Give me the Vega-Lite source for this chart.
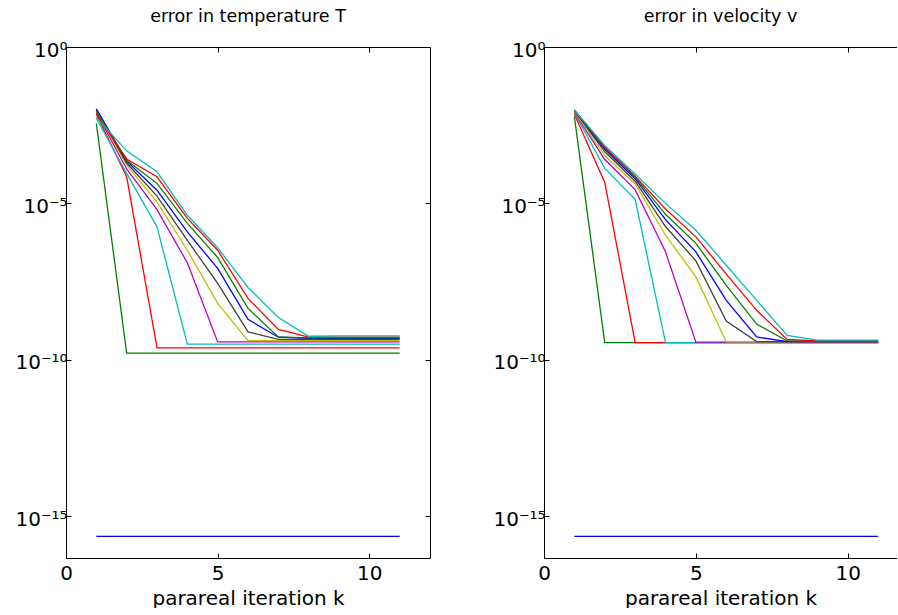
{
"$schema": "https://vega.github.io/schema/vega-lite/v6.json",
"padding": {"left": 14, "top": 8, "right": 0, "bottom": 0},
"bounds": "flush",
"spacing": 114,
"config": {
 "font": "DejaVu Sans",
 "view": {"stroke": null},
 "axis": {"grid": false, "domainColor": "#000", "tickColor": "#000", "labelColor": "#000", "titleColor": "#000", "labelFontSize": 20, "titleFontSize": 20, "titleFontWeight": "normal", "tickSize": -5, "labelFont": "DejaVu Sans", "titleFont": "DejaVu Sans", "labelFlush": false, "domainWidth": 1, "tickWidth": 1},
 "title": {"fontSize": 17.5, "fontWeight": "normal", "color": "#000", "font": "DejaVu Sans", "offset": 14.5, "frame": "group", "anchor": "middle"}
},
"datasets": {
"T": [
{"s":1,"k":1,"e":2.239e-16},{"s":1,"k":2,"e":2.239e-16},{"s":1,"k":3,"e":2.239e-16},{"s":1,"k":4,"e":2.239e-16},{"s":1,"k":5,"e":2.239e-16},{"s":1,"k":6,"e":2.239e-16},{"s":1,"k":7,"e":2.239e-16},{"s":1,"k":8,"e":2.239e-16},{"s":1,"k":9,"e":2.239e-16},{"s":1,"k":10,"e":2.239e-16},{"s":1,"k":11,"e":2.239e-16},
{"s":2,"k":1,"e":3.631e-3},{"s":2,"k":2,"e":1.622e-10},{"s":2,"k":3,"e":1.622e-10},{"s":2,"k":4,"e":1.622e-10},{"s":2,"k":5,"e":1.622e-10},{"s":2,"k":6,"e":1.622e-10},{"s":2,"k":7,"e":1.622e-10},{"s":2,"k":8,"e":1.622e-10},{"s":2,"k":9,"e":1.622e-10},{"s":2,"k":10,"e":1.622e-10},{"s":2,"k":11,"e":1.622e-10},
{"s":3,"k":1,"e":7.079e-3},{"s":3,"k":2,"e":7.079e-5},{"s":3,"k":3,"e":2.399e-10},{"s":3,"k":4,"e":2.399e-10},{"s":3,"k":5,"e":2.399e-10},{"s":3,"k":6,"e":2.399e-10},{"s":3,"k":7,"e":2.399e-10},{"s":3,"k":8,"e":2.399e-10},{"s":3,"k":9,"e":2.399e-10},{"s":3,"k":10,"e":2.399e-10},{"s":3,"k":11,"e":2.399e-10},
{"s":4,"k":1,"e":5.248e-3},{"s":4,"k":2,"e":9.12e-5},{"s":4,"k":3,"e":1.778e-6},{"s":4,"k":4,"e":3.162e-10},{"s":4,"k":5,"e":3.162e-10},{"s":4,"k":6,"e":3.162e-10},{"s":4,"k":7,"e":3.162e-10},{"s":4,"k":8,"e":3.162e-10},{"s":4,"k":9,"e":3.162e-10},{"s":4,"k":10,"e":3.162e-10},{"s":4,"k":11,"e":3.162e-10},
{"s":5,"k":1,"e":7.943e-3},{"s":5,"k":2,"e":1.259e-4},{"s":5,"k":3,"e":6.31e-6},{"s":5,"k":4,"e":1.259e-7},{"s":5,"k":5,"e":3.715e-10},{"s":5,"k":6,"e":3.715e-10},{"s":5,"k":7,"e":3.715e-10},{"s":5,"k":8,"e":3.715e-10},{"s":5,"k":9,"e":3.715e-10},{"s":5,"k":10,"e":3.715e-10},{"s":5,"k":11,"e":3.715e-10},
{"s":6,"k":1,"e":8.913e-3},{"s":6,"k":2,"e":1.66e-4},{"s":6,"k":3,"e":1.122e-5},{"s":6,"k":4,"e":3.162e-7},{"s":6,"k":5,"e":6.31e-9},{"s":6,"k":6,"e":4.074e-10},{"s":6,"k":7,"e":4.074e-10},{"s":6,"k":8,"e":4.074e-10},{"s":6,"k":9,"e":4.074e-10},{"s":6,"k":10,"e":4.074e-10},{"s":6,"k":11,"e":4.074e-10},
{"s":7,"k":1,"e":1e-2},{"s":7,"k":2,"e":1.95e-4},{"s":7,"k":3,"e":1.698e-5},{"s":7,"k":4,"e":6.607e-7},{"s":7,"k":5,"e":2.754e-8},{"s":7,"k":6,"e":7.762e-10},{"s":7,"k":7,"e":4.467e-10},{"s":7,"k":8,"e":4.467e-10},{"s":7,"k":9,"e":4.467e-10},{"s":7,"k":10,"e":4.467e-10},{"s":7,"k":11,"e":4.467e-10},
{"s":8,"k":1,"e":1.047e-2},{"s":8,"k":2,"e":2.239e-4},{"s":8,"k":3,"e":2.63e-5},{"s":8,"k":4,"e":1.23e-6},{"s":8,"k":5,"e":8.318e-8},{"s":8,"k":6,"e":1.95e-9},{"s":8,"k":7,"e":5.248e-10},{"s":8,"k":8,"e":4.786e-10},{"s":8,"k":9,"e":4.786e-10},{"s":8,"k":10,"e":4.786e-10},{"s":8,"k":11,"e":4.786e-10},
{"s":9,"k":1,"e":8.913e-3},{"s":9,"k":2,"e":2.399e-4},{"s":9,"k":3,"e":4.365e-5},{"s":9,"k":4,"e":2.291e-6},{"s":9,"k":5,"e":1.862e-7},{"s":9,"k":6,"e":4.365e-9},{"s":9,"k":7,"e":5.37e-10},{"s":9,"k":8,"e":5.012e-10},{"s":9,"k":9,"e":5.012e-10},{"s":9,"k":10,"e":5.012e-10},{"s":9,"k":11,"e":5.012e-10},
{"s":10,"k":1,"e":7.079e-3},{"s":10,"k":2,"e":2.63e-4},{"s":10,"k":3,"e":7.079e-5},{"s":10,"k":4,"e":3.311e-6},{"s":10,"k":5,"e":3.162e-7},{"s":10,"k":6,"e":9.12e-9},{"s":10,"k":7,"e":9.333e-10},{"s":10,"k":8,"e":5.248e-10},{"s":10,"k":9,"e":5.248e-10},{"s":10,"k":10,"e":5.248e-10},{"s":10,"k":11,"e":5.248e-10},
{"s":11,"k":1,"e":5.623e-3},{"s":11,"k":2,"e":4.786e-4},{"s":11,"k":3,"e":1.023e-4},{"s":11,"k":4,"e":4.169e-6},{"s":11,"k":5,"e":3.802e-7},{"s":11,"k":6,"e":2.042e-8},{"s":11,"k":7,"e":2.239e-9},{"s":11,"k":8,"e":5.623e-10},{"s":11,"k":9,"e":5.754e-10},{"s":11,"k":10,"e":5.754e-10},{"s":11,"k":11,"e":5.754e-10}
],
"V": [
{"s":1,"k":1,"e":2.239e-16},{"s":1,"k":2,"e":2.239e-16},{"s":1,"k":3,"e":2.239e-16},{"s":1,"k":4,"e":2.239e-16},{"s":1,"k":5,"e":2.239e-16},{"s":1,"k":6,"e":2.239e-16},{"s":1,"k":7,"e":2.239e-16},{"s":1,"k":8,"e":2.239e-16},{"s":1,"k":9,"e":2.239e-16},{"s":1,"k":10,"e":2.239e-16},{"s":1,"k":11,"e":2.239e-16},
{"s":2,"k":1,"e":5.888e-3},{"s":2,"k":2,"e":3.548e-10},{"s":2,"k":3,"e":3.548e-10},{"s":2,"k":4,"e":3.548e-10},{"s":2,"k":5,"e":3.548e-10},{"s":2,"k":6,"e":3.548e-10},{"s":2,"k":7,"e":3.548e-10},{"s":2,"k":8,"e":3.548e-10},{"s":2,"k":9,"e":3.548e-10},{"s":2,"k":10,"e":3.548e-10},{"s":2,"k":11,"e":3.548e-10},
{"s":3,"k":1,"e":7.079e-3},{"s":3,"k":2,"e":4.677e-5},{"s":3,"k":3,"e":3.548e-10},{"s":3,"k":4,"e":3.548e-10},{"s":3,"k":5,"e":3.548e-10},{"s":3,"k":6,"e":3.548e-10},{"s":3,"k":7,"e":3.548e-10},{"s":3,"k":8,"e":3.548e-10},{"s":3,"k":9,"e":3.548e-10},{"s":3,"k":10,"e":3.548e-10},{"s":3,"k":11,"e":3.548e-10},
{"s":4,"k":1,"e":7.943e-3},{"s":4,"k":2,"e":1.318e-4},{"s":4,"k":3,"e":1.349e-5},{"s":4,"k":4,"e":3.548e-10},{"s":4,"k":5,"e":3.548e-10},{"s":4,"k":6,"e":3.548e-10},{"s":4,"k":7,"e":3.548e-10},{"s":4,"k":8,"e":3.548e-10},{"s":4,"k":9,"e":3.548e-10},{"s":4,"k":10,"e":3.548e-10},{"s":4,"k":11,"e":3.548e-10},
{"s":5,"k":1,"e":8.318e-3},{"s":5,"k":2,"e":2.512e-4},{"s":5,"k":3,"e":2.754e-5},{"s":5,"k":4,"e":2.818e-7},{"s":5,"k":5,"e":3.631e-10},{"s":5,"k":6,"e":3.631e-10},{"s":5,"k":7,"e":3.631e-10},{"s":5,"k":8,"e":3.631e-10},{"s":5,"k":9,"e":3.631e-10},{"s":5,"k":10,"e":3.631e-10},{"s":5,"k":11,"e":3.631e-10},
{"s":6,"k":1,"e":8.71e-3},{"s":6,"k":2,"e":3.388e-4},{"s":6,"k":3,"e":4.169e-5},{"s":6,"k":4,"e":9.55e-7},{"s":6,"k":5,"e":4.467e-8},{"s":6,"k":6,"e":3.715e-10},{"s":6,"k":7,"e":3.715e-10},{"s":6,"k":8,"e":3.715e-10},{"s":6,"k":9,"e":3.715e-10},{"s":6,"k":10,"e":3.715e-10},{"s":6,"k":11,"e":3.715e-10},
{"s":7,"k":1,"e":9.333e-3},{"s":7,"k":2,"e":4.467e-4},{"s":7,"k":3,"e":5.129e-5},{"s":7,"k":4,"e":1.82e-6},{"s":7,"k":5,"e":1.445e-7},{"s":7,"k":6,"e":1.738e-9},{"s":7,"k":7,"e":3.802e-10},{"s":7,"k":8,"e":3.802e-10},{"s":7,"k":9,"e":3.802e-10},{"s":7,"k":10,"e":3.802e-10},{"s":7,"k":11,"e":3.802e-10},
{"s":8,"k":1,"e":9.333e-3},{"s":8,"k":2,"e":5.37e-4},{"s":8,"k":3,"e":6.166e-5},{"s":8,"k":4,"e":3.02e-6},{"s":8,"k":5,"e":2.818e-7},{"s":8,"k":6,"e":7.943e-9},{"s":8,"k":7,"e":5.37e-10},{"s":8,"k":8,"e":3.802e-10},{"s":8,"k":9,"e":3.802e-10},{"s":8,"k":10,"e":3.802e-10},{"s":8,"k":11,"e":3.802e-10},
{"s":9,"k":1,"e":9.55e-3},{"s":9,"k":2,"e":6.026e-4},{"s":9,"k":3,"e":6.918e-5},{"s":9,"k":4,"e":4.467e-6},{"s":9,"k":5,"e":5.248e-7},{"s":9,"k":6,"e":2.399e-8},{"s":9,"k":7,"e":1.38e-9},{"s":9,"k":8,"e":3.981e-10},{"s":9,"k":9,"e":3.89e-10},{"s":9,"k":10,"e":3.89e-10},{"s":9,"k":11,"e":3.89e-10},
{"s":10,"k":1,"e":9.55e-3},{"s":10,"k":2,"e":6.457e-4},{"s":10,"k":3,"e":7.413e-5},{"s":10,"k":4,"e":6.607e-6},{"s":10,"k":5,"e":8.511e-7},{"s":10,"k":6,"e":5.495e-8},{"s":10,"k":7,"e":3.802e-9},{"s":10,"k":8,"e":4.467e-10},{"s":10,"k":9,"e":3.981e-10},{"s":10,"k":10,"e":3.981e-10},{"s":10,"k":11,"e":3.981e-10},
{"s":11,"k":1,"e":9.55e-3},{"s":11,"k":2,"e":7.079e-4},{"s":11,"k":3,"e":8.71e-5},{"s":11,"k":4,"e":1e-5},{"s":11,"k":5,"e":1.38e-6},{"s":11,"k":6,"e":1.047e-7},{"s":11,"k":7,"e":7.943e-9},{"s":11,"k":8,"e":6.026e-10},{"s":11,"k":9,"e":4.266e-10},{"s":11,"k":10,"e":4.266e-10},{"s":11,"k":11,"e":4.266e-10}
]
},
"hconcat": [
{
 "width": 364, "height": 511,
 "title": "error in temperature T",
 "data": {"name": "T"},
 "layer": [
  {"mark": {"type": "line", "strokeWidth": 1.3, "clip": true},
   "encoding": {
    "x": {"field": "k", "type": "quantitative", "scale": {"domain": [0, 12], "nice": false, "zero": false},
          "axis": {"orient": "bottom", "values": [0, 5, 10], "labelPadding": 10, "titlePadding": 5, "title": "parareal iteration k"}},
    "y": {"field": "e", "type": "quantitative", "scale": {"type": "log", "domain": [4.57e-17, 1], "nice": false},
          "axis": {"orient": "left", "values": [1e-15, 1e-10, 1e-5, 1], "labelPadding": 4, "labelOffset": 3, "title": null,
                   "labelExpr": "'10' + (datum.value > 0.5 ? '⁰' : datum.value > 1e-7 ? '⁻⁵' : datum.value > 1e-12 ? '⁻¹⁰' : '⁻¹⁵')"}},
    "color": {"field": "s", "type": "nominal", "legend": null,
              "scale": {"domain": [1,2,3,4,5,6,7,8,9,10,11], "range": ["#0000FF","#008000","#FF0000","#00BFBF","#BF00BF","#BFBF00","#404040","#0000FF","#008000","#FF0000","#00BFBF"]}}
   }},
  {"mark": {"type": "line", "opacity": 0},
   "encoding": {
    "x": {"field": "k", "type": "quantitative", "scale": {"domain": [0, 12], "nice": false, "zero": false},
          "axis": {"orient": "top", "values": [0, 5, 10], "labels": false, "title": null}},
    "y": {"field": "e", "type": "quantitative", "scale": {"type": "log", "domain": [4.57e-17, 1], "nice": false},
          "axis": {"orient": "right", "values": [1e-15, 1e-10, 1e-5, 1], "labels": false, "title": null}},
    "detail": {"field": "s", "type": "nominal"}
   }}
 ],
 "resolve": {"axis": {"x": "independent", "y": "independent"}}
},
{
 "width": 353, "height": 511,
 "title": "error in velocity v",
 "data": {"name": "V"},
 "layer": [
  {"mark": {"type": "line", "strokeWidth": 1.3, "clip": true},
   "encoding": {
    "x": {"field": "k", "type": "quantitative", "scale": {"domain": [0, 11.62], "nice": false, "zero": false},
          "axis": {"orient": "bottom", "values": [0, 5, 10], "labelPadding": 10, "titlePadding": 5, "title": "parareal iteration k"}},
    "y": {"field": "e", "type": "quantitative", "scale": {"type": "log", "domain": [4.57e-17, 1], "nice": false},
          "axis": {"orient": "left", "values": [1e-15, 1e-10, 1e-5, 1], "labelPadding": 4, "labelOffset": 3, "title": null,
                   "labelExpr": "'10' + (datum.value > 0.5 ? '⁰' : datum.value > 1e-7 ? '⁻⁵' : datum.value > 1e-12 ? '⁻¹⁰' : '⁻¹⁵')"}},
    "color": {"field": "s", "type": "nominal", "legend": null,
              "scale": {"domain": [1,2,3,4,5,6,7,8,9,10,11], "range": ["#0000FF","#008000","#FF0000","#00BFBF","#BF00BF","#BFBF00","#404040","#0000FF","#008000","#FF0000","#00BFBF"]}}
   }},
  {"mark": {"type": "line", "opacity": 0},
   "encoding": {
    "x": {"field": "k", "type": "quantitative", "scale": {"domain": [0, 11.62], "nice": false, "zero": false},
          "axis": {"orient": "top", "values": [0, 5, 10], "labels": false, "title": null}},
    "y": {"field": "e", "type": "quantitative", "scale": {"type": "log", "domain": [4.57e-17, 1], "nice": false}, "axis": null},
    "detail": {"field": "s", "type": "nominal"}
   }}
 ],
 "resolve": {"axis": {"x": "independent", "y": "independent"}}
}
]
}
